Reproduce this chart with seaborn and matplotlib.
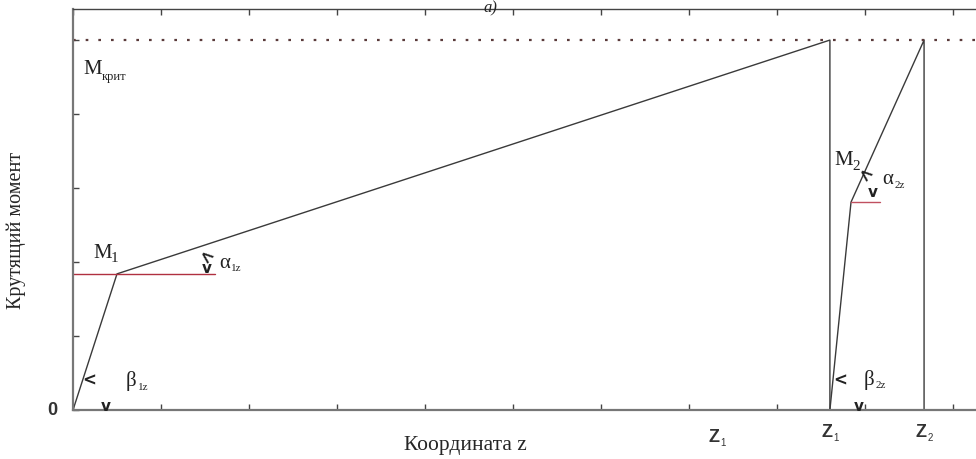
import matplotlib
matplotlib.use("Agg")
import matplotlib.pyplot as plt
import numpy as np
import pandas as pd
import seaborn as sns

# Torque diagram: loading branches of the two sections
branch1_z = [0.0, 0.5, 8.6, 8.6]
branch1_m = [0.0, 1.84, 5.0, 0.0]
branch2_z = [8.6, 8.84, 9.67, 9.67]
branch2_m = [0.0, 2.81, 5.0, 0.0]

# Horizontal reference lines at the break points
ref1_z = [0.0, 1.61]
ref1_m = [1.84, 1.84]
ref2_z = [8.84, 9.17]
ref2_m = [2.81, 2.81]

m_crit = 5.0
z_marks = [7.31, 8.6, 9.67]
z_mark_subs = ["1", "1", "2"]

sns.set_theme(style="white")
plt.rcParams["font.family"] = ["Liberation Serif", "DejaVu Serif"]
plt.rcParams["mathtext.fontset"] = "stix"

fig = plt.figure(figsize=(9.76, 4.6), dpi=100)
ax = fig.add_axes([73 / 976, 49 / 460, 1 - 73 / 976, 401 / 460])

line_col = "#3a3a3a"
df1 = pd.DataFrame({"z": branch1_z, "m": branch1_m})
df2 = pd.DataFrame({"z": branch2_z, "m": branch2_m})
sns.lineplot(data=df1, x="z", y="m", sort=False, estimator=None, ax=ax,
             color=line_col, lw=1.0)
sns.lineplot(data=df2, x="z", y="m", sort=False, estimator=None, ax=ax,
             color=line_col, lw=1.0)
sns.lineplot(x=ref1_z, y=ref1_m, sort=False, estimator=None, ax=ax,
             color="#b03040", lw=1.0)
sns.lineplot(x=ref2_z, y=ref2_m, sort=False, estimator=None, ax=ax,
             color="#c05060", lw=1.0)
ax.axhline(m_crit, color="#5a3a3a", lw=1.6, ls=(0, (1.2, 4.5)))

ax.set_xlim(0, 10.26)
ax.set_ylim(0, 5.42)
ax.set_xticks(np.arange(0, 11, 1))
ax.set_yticks(np.arange(0, 6, 1))
ax.set_xticklabels([])
ax.set_yticklabels([])
ax.tick_params(axis="both", direction="in", length=4, width=1, color="#444",
               bottom=True, top=True, left=True, right=False)
for side in ("left", "bottom"):
    ax.spines[side].set_color("#777")
    ax.spines[side].set_linewidth(1.6)
ax.spines["top"].set_color("#444")
ax.spines["top"].set_linewidth(1.0)
ax.spines["right"].set_visible(False)

ax.set_xlabel("")
ax.set_ylabel("")
fig.text(465 / 976, 1 - 446 / 460, "Координата z", ha="center", va="center",
         fontsize=15.5)
fig.text(16 / 976, 1 - 230 / 460, "Крутящий момент", ha="center", va="center",
         rotation=90, fontsize=14.5)
fig.text(490 / 976, 1.0, "а)", ha="center", va="top",
         fontsize=12, style="italic")

sans = ["Liberation Sans", "DejaVu Sans"]
# Axis marks below the z axis
ax.text(-0.18, 0.0, "0", ha="right", va="center", fontsize=13,
        family=sans, fontweight="bold", color="#333")
for zm, sub, dy in zip(z_marks, z_mark_subs, [-0.36, -0.29, -0.29]):
    ax.text(zm + 0.03, dy, "Z", ha="right", va="center", fontsize=13,
            family=sans, fontweight="bold", color="#333", clip_on=False)
    ax.text(zm + 0.04, dy - 0.07, sub, ha="left", va="center", fontsize=7,
            family=sans, color="#333", clip_on=False)

txt = dict(color="#222", clip_on=False)
chev = dict(ha="center", va="center", family=["DejaVu Sans"],
            fontweight="bold", **txt)


def greek(x, y, letter, sub):
    ax.text(x, y, letter, ha="left", va="center", fontsize=15, **txt)
    ax.text(x + 0.14, y - 0.08, sub, ha="left", va="center", fontsize=8, **txt)


# Critical torque label
ax.text(0.12, 4.61, "M", ha="left", va="center", fontsize=15, **txt)
ax.text(0.33, 4.52, "крит", ha="left", va="center", fontsize=9, **txt)

# Section 1 labels
ax.text(0.23, 2.13, "M", ha="left", va="center", fontsize=15, **txt)
ax.text(0.43, 2.06, "1", ha="left", va="center", fontsize=11, **txt)
greek(1.66, 2.0, "α", "1z")
ax.text(1.49, 2.07, "<", rotation=-40, fontsize=12, **chev)
ax.text(1.52, 1.92, "v", fontsize=11, **chev)
greek(0.6, 0.4, "β", "1z")
ax.text(0.18, 0.41, "<", fontsize=12, **chev)
ax.text(0.37, 0.06, "v", fontsize=11, **chev)

# Section 2 labels
ax.text(8.65, 3.38, "M", ha="left", va="center", fontsize=15, **txt)
ax.text(8.85, 3.31, "2", ha="left", va="center", fontsize=11, **txt)
greek(9.2, 3.13, "α", "2z")
ax.text(8.98, 3.18, "<", rotation=-40, fontsize=12, **chev)
ax.text(9.09, 2.96, "v", fontsize=11, **chev)
greek(8.98, 0.42, "β", "2z")
ax.text(8.72, 0.41, "<", fontsize=12, **chev)
ax.text(8.93, 0.06, "v", fontsize=11, **chev)

fig.savefig("out.png", dpi=100)
